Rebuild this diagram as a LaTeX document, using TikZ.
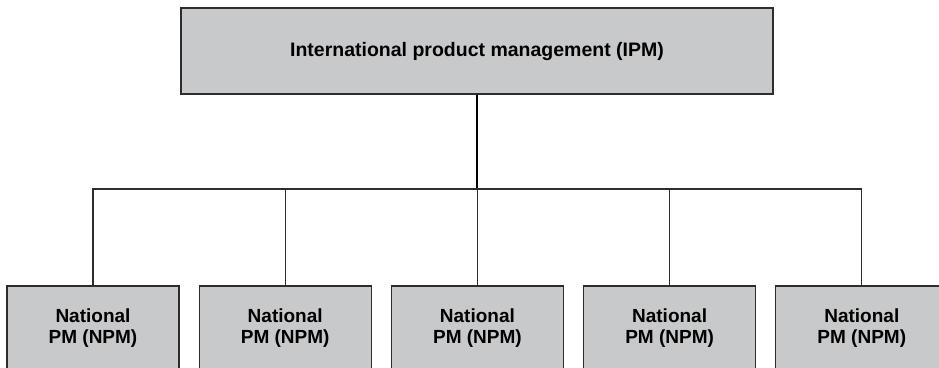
\documentclass[tikz,border=0pt]{standalone}
\usepackage{fontspec}
\setmainfont{Liberation Sans}
\usetikzlibrary{positioning}
\definecolor{PMGray}{RGB}{200,201,203}
\definecolor{PMLine}{RGB}{45,45,45}

\begin{document}
\begin{tikzpicture}[x=1pt, y=1pt, node distance=19pt, every node/.style={font=\fontsize{19}{21}\selectfont\bfseries,align=center}, box/.style={draw=PMLine,line width=1.2pt,fill=PMGray,inner sep=0pt}, link/.style={draw=PMLine,line width=1.1pt}]
\useasboundingbox (0,0) rectangle (939,-367);
\clip (0,0) rectangle (939,-367);
\node[box,minimum width=592pt,minimum height=86pt,font=\fontsize{19.5}{21}\selectfont\bfseries] (ipm) at (477,-51) {International product management (IPM)};
\node[box,minimum width=172pt,minimum height=84pt] (npm1) at (93,-328) {National\\PM (NPM)};
\foreach \i [count=\j from 1] in {2,...,5}
  \node[box,minimum width=172pt,minimum height=84pt,right=of npm\j] (npm\i) {National\\PM (NPM)};
\coordinate (bar) at (477,-189);
% stem from the top box, then the bar and the drops
\draw[link,line width=1.6pt,draw=black] (ipm) -- (ipm|-bar);
\draw[link] (npm1) -- (npm1|-bar) -- (npm5|-bar) -- (npm5);
\foreach \i in {2,3,4}
  \draw[link] (npm\i) -- (npm\i|-bar);
\end{tikzpicture}
\end{document}
